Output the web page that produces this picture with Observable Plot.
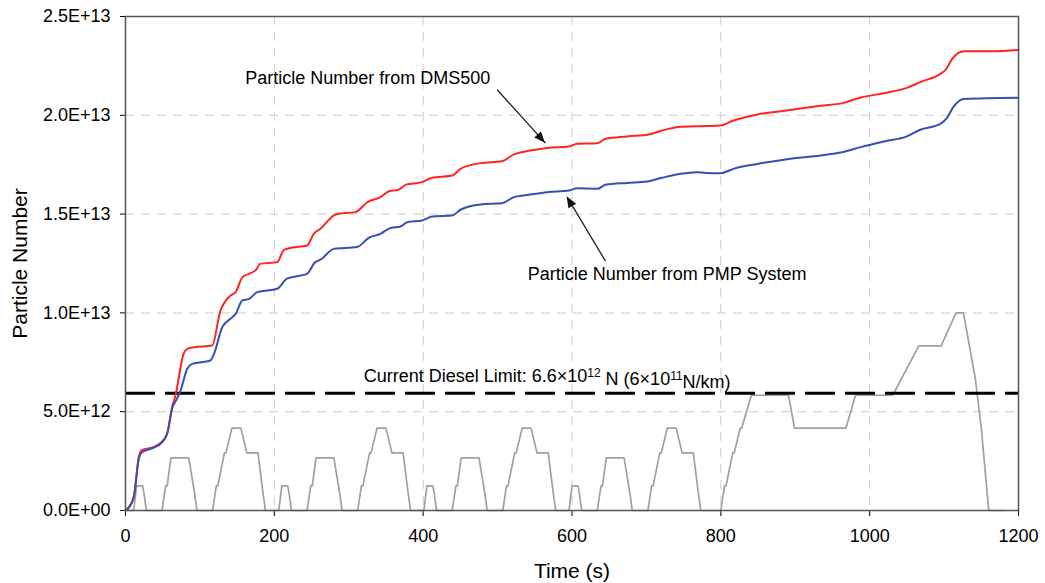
<!DOCTYPE html>
<html>
<head>
<meta charset="utf-8">
<script src="https://cdn.jsdelivr.net/npm/d3@7"></script>
<script src="https://cdn.jsdelivr.net/npm/@observablehq/plot@0.6"></script>
<style>
  html, body { margin: 0; padding: 0; background: #fff; }
  #chart { width: 1045px; height: 583px; }
</style>
</head>
<body>
<div id="chart"></div>
<script>
// ---- Data ----
// Cumulative particle number, DMS500 (time s, value in units of 1e12)
const dmsTime = [0, 1.3, 11, 18, 22, 38, 49, 56, 63, 67, 78, 83, 92, 116.5, 127.6, 132, 141, 148, 157, 166, 174.7, 181, 204, 213, 235, 244, 253, 262, 280, 284.5, 309, 325, 342.6, 354, 367, 376, 398.6, 412, 439, 450, 477, 506, 522, 544, 566.6, 595.7, 607, 634, 645, 674, 703, 721, 746, 799.5, 817, 849, 898, 929, 965, 988, 1019, 1050, 1068, 1095, 1102, 1111, 1126.5, 1164, 1200];
const dmsValue = [0, 0.03, 0.67, 2.75, 3.05, 3.22, 3.48, 3.9, 5.3, 5.8, 7.93, 8.18, 8.26, 8.35, 10.12, 10.46, 10.88, 11.05, 11.8, 11.98, 12.15, 12.48, 12.57, 13.19, 13.36, 13.41, 14.0, 14.26, 14.93, 15.01, 15.1, 15.6, 15.86, 16.16, 16.23, 16.48, 16.62, 16.84, 16.95, 17.29, 17.58, 17.68, 18.02, 18.22, 18.35, 18.42, 18.56, 18.59, 18.81, 18.93, 19.03, 19.23, 19.42, 19.48, 19.74, 20.04, 20.29, 20.46, 20.63, 20.9, 21.12, 21.39, 21.68, 22.1, 22.3, 22.86, 23.24, 23.24, 23.31];

// Cumulative particle number, PMP system
const pmpTime = [0, 1.3, 11, 18, 22, 38, 49, 56, 63, 68, 74, 83, 89.6, 114, 119, 130, 141, 148, 157, 166, 177, 204, 217, 235, 244, 255, 262, 280, 311, 327, 342.6, 356, 369.5, 378.5, 398.6, 412, 439, 450, 477, 506, 522, 544, 566.6, 596, 607, 634, 645, 674, 701, 721, 746, 768, 780, 799.5, 817, 849, 889, 934, 963, 988, 1019, 1050, 1068, 1095, 1104, 1113, 1126.5, 1200];
const pmpValue = [0, 0.03, 0.67, 2.65, 2.95, 3.18, 3.45, 3.88, 5.2, 5.57, 6.07, 7.17, 7.42, 7.59, 7.93, 9.28, 9.7, 9.95, 10.63, 10.71, 11.05, 11.22, 11.73, 11.89, 11.98, 12.57, 12.69, 13.24, 13.33, 13.8, 14.0, 14.3, 14.37, 14.59, 14.68, 14.88, 14.93, 15.22, 15.49, 15.55, 15.86, 15.99, 16.11, 16.19, 16.31, 16.28, 16.48, 16.58, 16.65, 16.84, 17.04, 17.12, 17.08, 17.07, 17.29, 17.54, 17.78, 17.97, 18.13, 18.39, 18.67, 18.93, 19.27, 19.57, 19.87, 20.45, 20.83, 20.89];

// Drive-cycle speed trace (time s, speed km/h), drawn scaled on the particle axis
const speedTime = [0, 11, 15, 23, 25, 28, 49, 54, 56, 61, 85, 93, 96, 117, 122, 124, 133, 135, 143, 155, 163, 176, 178, 185, 188,
  206, 210, 218, 220, 223, 244, 249, 251, 256, 280, 288, 291, 312, 317, 319, 328, 330, 338, 350, 358, 371, 373, 380, 383,
  401, 405, 413, 415, 418, 439, 444, 446, 451, 475, 483, 486, 507, 512, 514, 523, 525, 533, 545, 553, 566, 568, 575, 578,
  596, 600, 608, 610, 613, 634, 639, 641, 646, 670, 678, 681, 702, 707, 709, 718, 720, 728, 740, 748, 761, 763, 770, 773,
  800, 805, 807, 816, 818, 826, 828, 841, 891, 899, 968, 981, 1031, 1066, 1096, 1116, 1126, 1142, 1150, 1160, 1180];
const speedKmh = [0, 0, 15, 15, 10, 0, 0, 15, 15, 32, 32, 10, 0, 0, 15, 15, 35, 35, 50, 50, 35, 35, 35, 10, 0,
  0, 15, 15, 10, 0, 0, 15, 15, 32, 32, 10, 0, 0, 15, 15, 35, 35, 50, 50, 35, 35, 35, 10, 0,
  0, 15, 15, 10, 0, 0, 15, 15, 32, 32, 10, 0, 0, 15, 15, 35, 35, 50, 50, 35, 35, 35, 10, 0,
  0, 15, 15, 10, 0, 0, 15, 15, 32, 32, 10, 0, 0, 15, 15, 35, 35, 50, 50, 35, 35, 35, 10, 0,
  0, 15, 15, 35, 35, 50, 50, 70, 70, 50, 50, 70, 70, 100, 100, 120, 120, 80, 50, 0, 0];
const speedToAxis = 1e13 / 120; // 120 km/h drawn at 1.0E+13

// Limit line (as drawn)
const limitValue = [5.94e12];

// Axis ticks
const xTicks = [0, 200, 400, 600, 800, 1000, 1200];
const yTicks = [0, 5e12, 1e13, 1.5e13, 2e13, 2.5e13];

// Annotations (data units)
const labelText = ["Particle Number from DMS500", "Particle Number from PMP System", "Current Diesel Limit: 6.6×10^12 N (6×10^11N/km)"];
const labelX = [161, 540.5, 320];
const labelY = [21.86e12, 11.94e12, 6.78e12];
const arrowX1 = [499.5, 645];
const arrowY1 = [21.29e12, 12.62e12];
const arrowX2 = [564.4, 593.5];
const arrowY2 = [18.59e12, 15.86e12];

// ---- Build tables ----
const dms = dmsTime.map((t, i) => ({ t, v: dmsValue[i] * 1e12 }));
const pmp = pmpTime.map((t, i) => ({ t, v: pmpValue[i] * 1e12 }));
const speed = speedTime.map((t, i) => ({ t, v: speedKmh[i] * speedToAxis }));
const labels = labelText.map((s, i) => ({ s, x: labelX[i], y: labelY[i] }));
const arrows = arrowX1.map((x1, i) => ({ x1, y1: arrowY1[i], x2: arrowX2[i], y2: arrowY2[i] }));

const fmtE = d => {
  if (d === 0) return "0.0E+00";
  const e = Math.floor(Math.log10(d) + 1e-9);
  const m = d / Math.pow(10, e);
  return m.toFixed(1) + "E+" + String(e).padStart(2, "0");
};

const font = "'Liberation Sans', Arial, Helvetica, sans-serif";

const plot = Plot.plot({
  width: 1045,
  height: 583,
  marginLeft: 125,
  marginRight: 27,
  marginTop: 16,
  marginBottom: 73,
  style: { fontFamily: font, fontSize: "18px", color: "#000", background: "#fff", overflow: "visible" },
  x: { domain: [0, 1200], ticks: xTicks, tickFormat: d => String(d), label: null, tickSize: 6, tickPadding: 13 },
  y: { domain: [0, 2.5e13], ticks: yTicks, tickFormat: fmtE, label: null, tickSize: 5, tickPadding: 10 },
  marks: [
    Plot.ruleX(xTicks.slice(1, -1), { stroke: "#cdcdcd", strokeWidth: 1, strokeDasharray: "9,7" }),
    Plot.ruleY(yTicks.slice(1, -1), { stroke: "#cdcdcd", strokeWidth: 1, strokeDasharray: "9,7" }),
    Plot.line(speed, { x: "t", y: "v", stroke: "#a0a0a0", strokeWidth: 1.7 }),
    Plot.ruleY(limitValue, { stroke: "#000", strokeWidth: 3, strokeDasharray: "30,10" }),
    Plot.line(dms, { x: "t", y: "v", stroke: "#ff2424", strokeWidth: 2, curve: "monotone-x" }),
    Plot.line(pmp, { x: "t", y: "v", stroke: "#3550b0", strokeWidth: 2, curve: "monotone-x" }),
    Plot.link(arrows, { x1: "x1", y1: "y1", x2: "x2", y2: "y2", stroke: "#222", strokeWidth: 1.3 }),
    Plot.text(labels, { x: "x", y: "y", text: "s", textAnchor: "start", lineAnchor: "middle", fontSize: 18, fill: "#000" }),
    Plot.text(["Time (s)"], { frameAnchor: "bottom", textAnchor: "middle", lineAnchor: "middle", dy: 61, fontSize: 21, fill: "#000" }),
    Plot.text(["Particle Number"], { frameAnchor: "left", textAnchor: "middle", lineAnchor: "middle", dx: -105, rotate: -90, fontSize: 21, fill: "#000" }),
    Plot.frame({ stroke: "#555", strokeWidth: 1.5 })
  ]
});

document.getElementById("chart").appendChild(plot);

// Filled arrow heads, positioned through the plot's scales
const sx = plot.scale("x"), sy = plot.scale("y");
const svg = d3.select(plot.tagName.toLowerCase() === "svg" ? plot : plot.querySelector("svg"));
arrows.forEach(a => {
  const px1 = sx.apply(a.x1), py1 = sy.apply(a.y1);
  const px2 = sx.apply(a.x2), py2 = sy.apply(a.y2);
  const ang = Math.atan2(py2 - py1, px2 - px1);
  const L = 11, W = 4.5;
  const bx = px2 - L * Math.cos(ang), by = py2 - L * Math.sin(ang);
  const pts = [
    [px2, py2],
    [bx + W * Math.sin(ang), by - W * Math.cos(ang)],
    [bx - W * Math.sin(ang), by + W * Math.cos(ang)]
  ];
  svg.append("polygon").attr("points", pts.map(p => p.join(",")).join(" ")).attr("fill", "#111");
});

// Superscripts in the limit label
svg.selectAll("text").each(function () {
  const el = d3.select(this);
  if (el.text().startsWith("Current Diesel")) {
    el.text(null);
    el.append("tspan").text("Current Diesel Limit: 6.6×10");
    el.append("tspan").attr("dy", "-0.45em").attr("font-size", "12px").text("12");
    el.append("tspan").attr("dy", "0.45em").text(" N (6×10");
    el.append("tspan").attr("dy", "-0.45em").attr("font-size", "12px").text("11");
    el.append("tspan").attr("dy", "0.45em").text("N/km)");
  }
});
</script>
</body>
</html>
